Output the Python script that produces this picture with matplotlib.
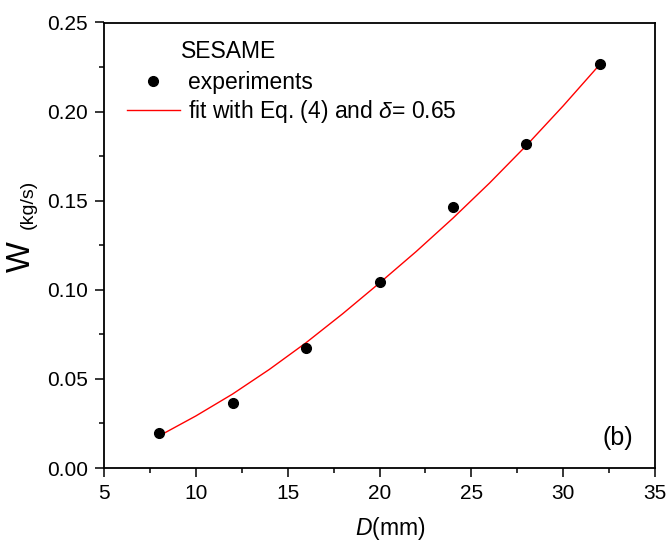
import numpy as np
import matplotlib
matplotlib.use("Agg")
import matplotlib.pyplot as plt
from matplotlib.ticker import MultipleLocator, FormatStrFormatter

plt.rcParams['font.family'] = ['Liberation Sans', 'DejaVu Sans']
plt.rcParams['mathtext.fontset'] = 'custom'
plt.rcParams['mathtext.rm'] = 'Liberation Sans'
plt.rcParams['mathtext.it'] = 'Liberation Sans:italic'

# SESAME experiments
D_exp = [8, 12, 16, 20, 24, 28, 32]
W_exp = [0.0194, 0.0362, 0.0675, 0.1046, 0.1462, 0.1816, 0.2267]

# fit curve, Eq. (4) with delta = 0.65
D_fit = [8, 10, 12, 14, 16, 18, 20, 22, 24, 26, 28, 30, 32]
W_fit = [0.0180, 0.0292, 0.0415, 0.0553, 0.0703, 0.0866, 0.1038,
         0.1215, 0.1402, 0.1600, 0.1810, 0.2032, 0.2265]

fig = plt.figure(figsize=(6.69, 5.4), dpi=100)
ax = fig.add_axes([104/669, (540-468)/540, 551/669, 445.5/540])

l1, = ax.plot(D_exp, W_exp, 'o', color='black', markersize=7, zorder=3)
l2, = ax.plot(D_fit, W_fit, '-', color='red', linewidth=1.0, zorder=2)

ax.set_xlim(5, 35)
ax.set_ylim(0, 0.25)
ax.xaxis.set_major_locator(MultipleLocator(5))
ax.xaxis.set_minor_locator(MultipleLocator(2.5))
ax.yaxis.set_major_locator(MultipleLocator(0.05))
ax.yaxis.set_minor_locator(MultipleLocator(0.025))
ax.yaxis.set_major_formatter(FormatStrFormatter('%.2f'))
ax.tick_params(which='major', direction='out', length=6.5, width=1.1,
               labelsize=15, pad=5)
ax.tick_params(which='minor', direction='out', length=3.6, width=1.1)
for s in ax.spines.values():
    s.set_linewidth(1.3)

# axis titles
fig.text(389.7/669, 1-528/540, r'$\it{D}$(mm)', fontsize=16.5,
         ha='center', va='center')
fig.text(21.7/669, 1-257/540, 'W', rotation=90, fontsize=23.5,
         ha='center', va='center')
fig.text(28.5/669, 1-204/540, '(kg/s)', rotation=90, fontsize=14,
         ha='center', va='center')

ax.legend([l1, l2], ['experiments', r'fit with Eq. (4) and $\delta$= 0.65'],
          loc='upper left', bbox_to_anchor=(0.0417, 0.891), frameon=False,
          fontsize=16.5, handlelength=2.31, handletextpad=0.34,
          labelspacing=0.18, borderpad=0, borderaxespad=0)
ax.text(0.1397, 0.934, 'SESAME', transform=ax.transAxes, fontsize=16.5,
        ha='left', va='center')
fig.text(617.7/669, 1-438/540, '(b)', fontsize=18, ha='center', va='center')

fig.savefig('out.png', dpi=100)
